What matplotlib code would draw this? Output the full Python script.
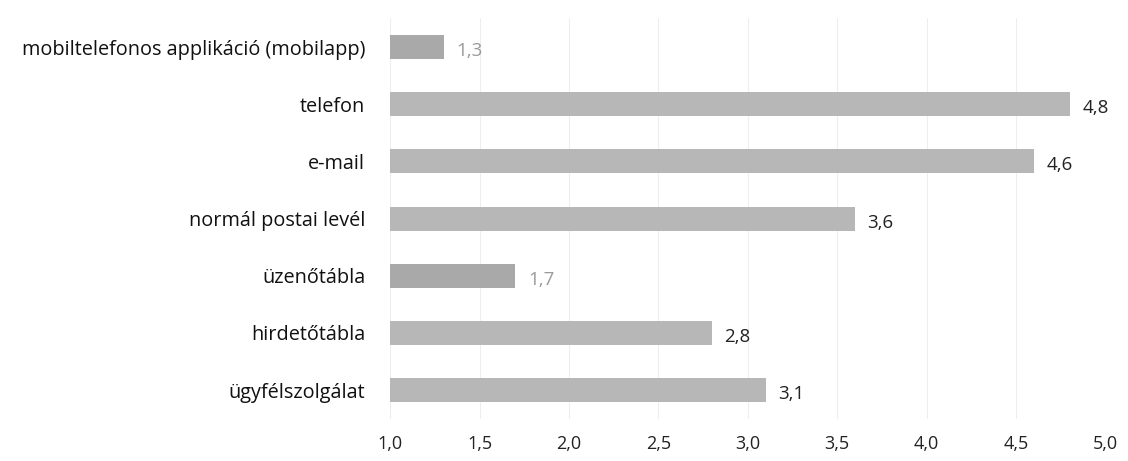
import matplotlib.pyplot as plt
import numpy as np

# Data
categories = ['mobiltelefonos applikáció (mobilapp)', 'telefon', 'e-mail',
              'normál postai levél', 'üzenőtábla', 'hirdetőtábla', 'ügyfélszolgálat']
values = [1.3, 4.8, 4.6, 3.6, 1.7, 2.8, 3.1]
faded = [True, False, False, False, True, False, False]
xticks = [1.0, 1.5, 2.0, 2.5, 3.0, 3.5, 4.0, 4.5, 5.0]

plt.rcParams['font.family'] = ['Open Sans', 'DejaVu Sans']

fig = plt.figure(figsize=(11.28, 4.61), dpi=100)
ax = fig.add_axes([0.346, 0.092, 0.634, 0.868])

y = np.arange(len(categories))
bar_colors = ['#a9a9a9' if f else '#b7b7b7' for f in faded]
ax.barh(y, [v - 1.0 for v in values], left=1.0, height=0.42, color=bar_colors, zorder=2)

for yi, v, f in zip(y, values, faded):
    ax.text(v + 0.07, yi + 0.07, f'{v:.1f}'.replace('.', ','), va='center', ha='left',
            fontsize=13.5, color='#9a9a9a' if f else '#222222')

ax.set_xlim(1.0, 5.0)
ax.set_ylim(len(categories) - 0.5, -0.5)
ax.set_xticks(xticks)
ax.set_xticklabels([f'{t:.1f}'.replace('.', ',') for t in xticks], fontsize=13, color='#222222')
ax.set_yticks(y)
ax.set_yticklabels(categories, fontsize=14.3, color='#111111')
ax.tick_params(axis='both', length=0)
ax.tick_params(axis='x', pad=12)
ax.tick_params(axis='y', pad=18)
ax.grid(axis='x', color='#eeeeee', linewidth=0.8, zorder=0)
for s in ax.spines.values():
    s.set_visible(False)

fig.savefig('out.png', dpi=100)
